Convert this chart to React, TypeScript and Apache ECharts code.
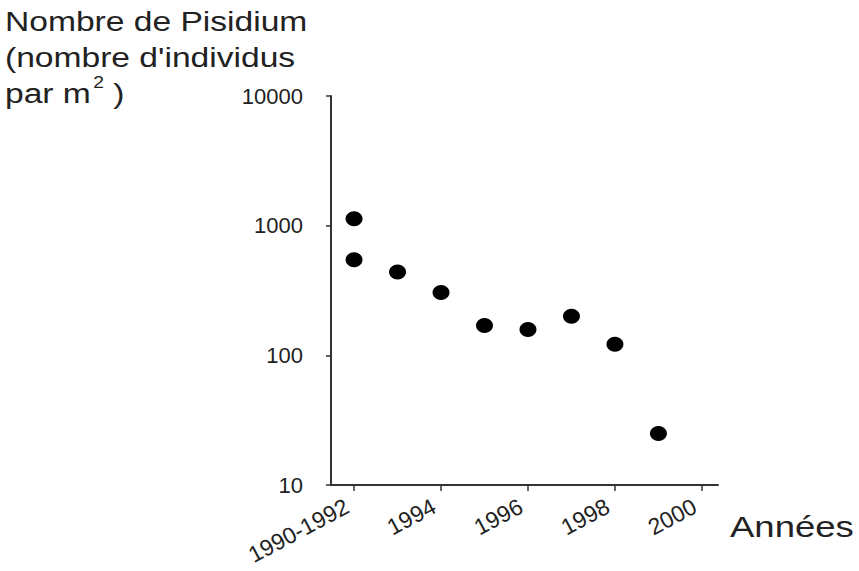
import React, { useEffect, useRef } from "react";
import * as echarts from "echarts";

const years = [1992, 1992, 1993, 1994, 1995, 1996, 1997, 1998, 1999];
const counts = [1130, 545, 440, 305, 170, 158, 200, 122, 25];
const xTicks = [1992, 1994, 1996, 1998, 2000];
const xTickLabels = ["1990-1992", "1994", "1996", "1998", "2000"];
const yLabel = ["Nombre de Pisidium", "(nombre d'individus", "par m{sup|2} )"];
const xName = "Années";

export default function App() {
  const ref = useRef<HTMLDivElement>(null);
  useEffect(() => {
    const chart = echarts.init(ref.current!, null, { renderer: "svg" });
    const font = "Liberation Sans, Arial, sans-serif";
    chart.setOption({
      animation: false,
      backgroundColor: "#fff",
      grid: { left: 331, top: 96, right: 141, bottom: 86, containLabel: false, outerBoundsMode: "none" },
      xAxis: {
        type: "value",
        min: 1991.47,
        max: 2000.37,
        axisLine: { show: true, lineStyle: { color: "#333", width: 2 } },
        axisTick: { show: true, length: 6, customValues: xTicks, lineStyle: { color: "#333", width: 1.5 } },
        splitLine: { show: false },
        axisLabel: {
          customValues: xTicks,
          rotate: 28,
          margin: 16,
          padding: [0, 8, 0, 0],
          fontSize: 23,
          color: "#222",
          fontFamily: font,
          formatter: (v: number) => xTickLabels[xTicks.indexOf(v)] ?? String(v),
        },
      },
      yAxis: {
        type: "log",
        logBase: 10,
        min: 10,
        max: 10000,
        axisLine: { show: true, lineStyle: { color: "#333", width: 2 } },
        axisTick: { show: true, length: 5, lineStyle: { color: "#333", width: 1.5 } },
        minorTick: { show: false },
        splitLine: { show: false },
        axisLabel: {
          margin: 28,
          fontSize: 22,
          color: "#222",
          fontFamily: font,
          formatter: (v: number) => String(Math.round(v)),
        },
      },
      series: [
        {
          type: "scatter",
          data: years.map((y, i) => [y, counts[i]]),
          symbol: "circle",
          symbolSize: [17, 15],
          itemStyle: { color: "#000", opacity: 1 },
        },
      ],
      graphic: [
        {
          type: "text",
          left: 5,
          top: 3,
          scaleX: 1.2,
          style: {
            text: yLabel.join("\n"),
            fontSize: 28,
            lineHeight: 36,
            fill: "#222",
            fontFamily: font,
            rich: {
              sup: { fontSize: 16, verticalAlign: "top", lineHeight: 36, padding: [0, 0, 10, 2] },
            },
          },
        },
        {
          type: "text",
          left: 730,
          top: 512,
          scaleX: 1.26,
          style: { text: xName, fontSize: 29, fill: "#222", fontFamily: font },
        },
      ],
    });
    return () => chart.dispose();
  }, []);
  return <div ref={ref} style={{ position: "fixed", left: 0, top: 0, width: 859, height: 571 }} />;
}
